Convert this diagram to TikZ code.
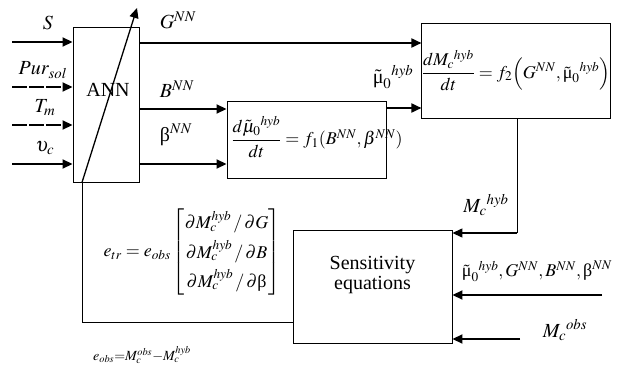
\documentclass[tikz,border=0pt]{standalone}
\usepackage{amsmath}
\usepackage{mathptmx}
\usepackage[no-math]{fontspec}
\setmainfont{Liberation Serif}
\usetikzlibrary{arrows.meta,positioning}

\newcommand{\gb}{\text{β}}
\newcommand{\gm}{\tilde{\text{μ}}}

\begin{document}
\begin{tikzpicture}[
  x=1pt, y=-1pt,
  every node/.style={font=\fontsize{18}{20}\selectfont},
  big/.style={font=\fontsize{20}{22}\selectfont},
  block/.style={draw, line width=0.9pt, inner sep=0pt},
  sig/.style={line width=1.8pt, -{Triangle[length=10pt,width=9pt]}},
  wire/.style={line width=1pt},
  small/.style={font=\fontsize{14}{16}\selectfont}
]
\useasboundingbox (0,0) rectangle (627,369);

% blocks
\node[block, minimum width=66pt, minimum height=155pt] (ann) at (106,104.5) {};
\node[big] (anntxt) at (108,90) {ANN};
\node[block, minimum width=159pt, minimum height=77pt] (fone) at (306.5,139.5) {};
\node (fonetxt) at (317,137)
  {$\dfrac{d\tilde{\mu}_0{}^{hyb}}{dt}=f_1(B^{NN},\beta^{NN})$};
\node[block, minimum width=176pt, minimum height=95pt] (ftwo) at (516,70.5)
  {$\dfrac{dM_c{}^{hyb}}{dt}=f_2\Bigl(G^{NN},\gm_0{}^{hyb}\Bigr)$};
\node[block, big, minimum width=159pt, minimum height=113pt, align=center] (sens)
  at (372.5,286.5) {Sensitivity\\[-2pt]equations\\[6pt]};

% inputs of the network
\coordinate (inS) at (12,42);
\coordinate (inP) at (12,87);
\coordinate (inT) at (12,125);
\coordinate (inU) at (12,164);
\draw[sig] (inS) -- (inS -| ann.west);
\draw[sig, dash pattern=on 15pt off 2pt] (inP) -- (inP -| ann.west);
\draw[sig, dash pattern=on 15pt off 2pt] (inT) -- (inT -| ann.west);
\draw[sig] (inU) -- (inU -| ann.west);
\node[big] (lS) at (48,23) {$S$};
\node[big] (lP) at (43,70) {$Pur_{sol}$};
\node[big] (lT) at (45,108) {$T_m$};
\node[big] (lU) at (45,148) {$\upsilon_c$};

% outputs of the network
\coordinate (yG) at (0,43);
\coordinate (yB) at (0,109);
\coordinate (yb) at (0,164);
\coordinate (ym) at (0,108);
\draw[sig] (ann.east |- yG) -- (ftwo.west |- yG);
\draw[sig] (ann.east |- yB) -- (fone.west |- yB);
\draw[sig] (ann.east |- yb) -- (fone.west |- yb);
\draw[sig] (fone.east |- ym) -- (ftwo.west |- ym);
\node[big] (lG) at (178,20) {$G^{NN}$};
\node[big] (lB) at (177,89) {$B^{NN}$};
\node[big] (lb) at (176,135) {$\gb^{NN}$};
\node[big] (lm) at (393,77) {$\gm_0{}^{hyb}$};

% model output to sensitivity equations
\coordinate (mc) at (517,233);
\draw[wire] (ftwo.south -| mc) -- (mc);
\draw[sig, line width=1.4pt] (mc) -- (sens.east |- mc);
\node[big] (lmc) at (486,205) {$M_c{}^{hyb}$};

\coordinate (srcall) at (602,295);
\coordinate (srcobs) at (520,339);
\draw[sig] (srcall) -- (sens.east |- srcall);
\draw[sig] (srcobs) -- (sens.east |- srcobs);
\node (lall) at (537,271) {$\gm_0{}^{hyb},G^{NN},B^{NN},\gb^{NN}$};
\node[big] (lobs) at (565,330) {$M_c{}^{obs}$};

% training error fed back to the network
\coordinate (fb) at (82,322);
\coordinate (tip) at (137,8);
\draw[wire] (sens.west |- fb) -- (fb) -- (ann.south -| fb);
\draw[line width=1.3pt, -{Triangle[length=10pt,width=9pt]}] (ann.south -| fb) -- (tip);

\node (etr) at (192,252)
  {$e_{tr}=e_{obs}\begin{bmatrix}\partial M_c^{hyb}\,/\,\partial G\\[5pt]
   \partial M_c^{hyb}\,/\,\partial B\\[5pt] \partial M_c^{hyb}\,/\,\partial\gb\end{bmatrix}$};
\node[small] (eobs) at (142,355) {$e_{obs}{=}M_c^{obs}{-}M_c^{hyb}$};
\end{tikzpicture}
\end{document}
